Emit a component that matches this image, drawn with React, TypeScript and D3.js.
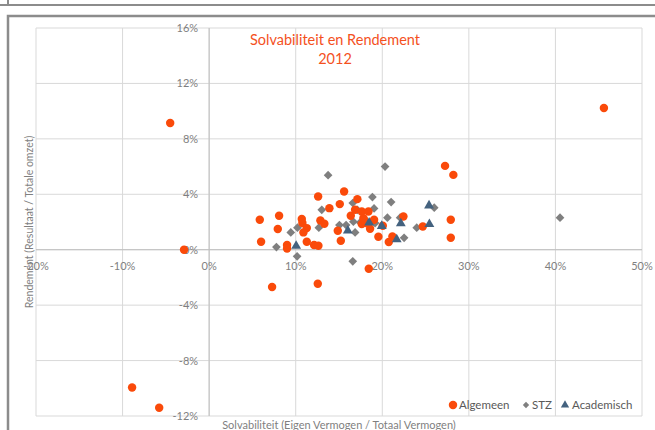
import * as d3 from "d3";
import { useEffect, useRef } from "react";

// axis ticks (percent)
const xTicks = [-20, -10, 0, 10, 20, 30, 40, 50];
const yTicks = [-12, -8, -4, 0, 4, 8, 12, 16];

// Algemeen (solvabiliteit %, rendement %)
const algemeenX = [5.85, 8.08, 7.93, 6.0, 9.0, 9.0, 10.7, 10.77, 11.28, 10.89, 11.28, 12.12, 12.62, 12.59, 13.89, 12.85,
  13.31, 14.86, 15.21, 15.09, 15.59, 16.36, 7.27, 12.55, 17.12, 16.86, 17.63, 17.82, 18.4, 17.63, 18.59, 19.05,
  19.55, 20.06, 20.75, 21.17, 22.44, 24.68, 27.91, 27.91, 27.25, 28.21, 18.44, 45.6, -4.5, -2.9, -8.9, -5.77,
  17.9, 18.1];
const algemeenY = [2.16, 2.45, 1.49, 0.58, 0.34, 0.09, 2.21, 1.92, 1.56, 1.25, 0.58, 0.34, 0.29, 3.84, 3.0, 2.11,
  1.87, 1.37, 0.65, 3.29, 4.2, 2.45, -2.69, -2.45, 3.65, 2.88, 2.76, 2.28, 2.76, 1.85, 1.51, 2.16,
  0.94, 1.73, 0.55, 0.96, 2.4, 1.68, 2.16, 0.86, 6.05, 5.4, -1.37, 10.23, 9.15, 0, -9.95, -11.4,
  2.16, 1.92];

// STZ
const stzX = [13.74, 13.01, 12.67, 9.43, 10.2, 7.77, 10.16, 15.05, 15.82, 16.59, 16.66, 16.86, 16.59, 20.32, 18.86,
  21.02, 19.05, 17.44, 19.17, 20.59, 22.06, 23.98, 22.52, 26.0, 40.53, 17.12];
const stzY = [5.38, 2.88, 1.59, 1.25, 1.59, 0.19, -0.48, 1.78, 1.78, 3.37, 2.02, 1.25, -0.84, 6.0, 3.8,
  3.44, 2.98, 1.97, 1.92, 2.31, 2.31, 1.59, 0.86, 3.03, 2.31, 2.88];

// Academisch
const acadX = [10.05, 16.02, 18.48, 19.94, 22.14, 21.67, 25.4, 25.44];
const acadY = [0.34, 1.44, 2.02, 1.78, 1.97, 0.81, 3.26, 1.92];

const orange = "#fa4a0a";
const grey = "#7f7f7f";
const blue = "#44627f";
const font = "Lato, 'Open Sans', sans-serif";

export default function App() {
  const ref = useRef<SVGSVGElement>(null);

  useEffect(() => {
    const svg = d3.select(ref.current);
    svg.selectAll("*").remove();

    // frame (previous box bottom + this box)
    svg.append("line").attr("x1", 0).attr("x2", 655).attr("y1", 5).attr("y2", 5)
      .attr("stroke", "#8c8c8c").attr("stroke-width", 2);
    svg.append("line").attr("x1", 8).attr("x2", 8).attr("y1", 0).attr("y2", 5)
      .attr("stroke", "#8c8c8c").attr("stroke-width", 2);
    svg.append("rect").attr("x", 8).attr("y", 16).attr("width", 660).attr("height", 430)
      .attr("fill", "#fff").attr("stroke", "#8c8c8c").attr("stroke-width", 2.5);

    const x = d3.scaleLinear().domain([-20, 50]).range([36, 642]);
    const y = d3.scaleLinear().domain([-12, 16]).range([416, 28]);

    // gridlines
    svg.append("g").selectAll("line").data(xTicks).join("line")
      .attr("x1", (d) => x(d)).attr("x2", (d) => x(d))
      .attr("y1", y(16)).attr("y2", y(-12))
      .attr("stroke", "#d9d9d9").attr("stroke-width", 1);
    svg.append("g").selectAll("line").data(yTicks).join("line")
      .attr("y1", (d) => y(d)).attr("y2", (d) => y(d))
      .attr("x1", x(-20)).attr("x2", x(50))
      .attr("stroke", "#d9d9d9").attr("stroke-width", 1);

    // axes through origin
    svg.append("line").attr("x1", x(0)).attr("x2", x(0)).attr("y1", y(16)).attr("y2", y(-12))
      .attr("stroke", "#bfbfbf");
    svg.append("line").attr("x1", x(-20)).attr("x2", x(50)).attr("y1", y(0)).attr("y2", y(0))
      .attr("stroke", "#bfbfbf");

    // tick labels
    svg.append("g").selectAll("text").data(xTicks).join("text")
      .attr("x", (d) => x(d)).attr("y", y(0) + 20)
      .attr("text-anchor", "middle")
      .attr("font-family", font).attr("font-size", 11).attr("fill", "#7f7f7f")
      .text((d) => d + "%");
    svg.append("g").selectAll("text").data(yTicks).join("text")
      .attr("x", x(0) - 11).attr("y", (d) => y(d) + 4)
      .attr("text-anchor", "end")
      .attr("font-family", font).attr("font-size", 11).attr("fill", "#7f7f7f")
      .text((d) => d + "%");

    // axis titles
    svg.append("text")
      .attr("transform", `translate(33,${(y(16) + y(-12)) / 2}) rotate(-90)`)
      .attr("text-anchor", "middle")
      .attr("font-family", font).attr("font-size", 10.5).attr("fill", "#7f7f7f")
      .text("Rendement (Resultaat / Totale omzet)");
    svg.append("text")
      .attr("x", (x(-20) + x(50)) / 2).attr("y", 429)
      .attr("text-anchor", "middle")
      .attr("font-family", font).attr("font-size", 11).attr("fill", "#7f7f7f")
      .text("Solvabiliteit (Eigen Vermogen / Totaal Vermogen)");

    // title
    const title = svg.append("text").attr("text-anchor", "middle")
      .attr("font-family", font).attr("font-size", 14.5).attr("fill", "#f4511e");
    title.append("tspan").attr("x", 335).attr("y", 45).text("Solvabiliteit en Rendement");
    title.append("tspan").attr("x", 335).attr("y", 64).text("2012");

    // points
    const circle = d3.symbol().type(d3.symbolCircle).size(56)();
    const diamond = d3.symbol().type(d3.symbolSquare).size(38)();
    const triangle = d3.symbol().type(d3.symbolTriangle).size(42)();

    svg.append("g").selectAll("path").data(d3.range(stzX.length)).join("path")
      .attr("d", diamond)
      .attr("transform", (i) => `translate(${x(stzX[i])},${y(stzY[i])}) rotate(45)`)
      .attr("fill", grey);
    svg.append("g").selectAll("path").data(d3.range(algemeenX.length)).join("path")
      .attr("d", circle)
      .attr("transform", (i) => `translate(${x(algemeenX[i])},${y(algemeenY[i])})`)
      .attr("fill", orange);
    svg.append("g").selectAll("path").data(d3.range(acadX.length)).join("path")
      .attr("d", triangle)
      .attr("transform", (i) => `translate(${x(acadX[i])},${y(acadY[i]) + 1})`)
      .attr("fill", blue);

    // legend
    const legend = [
      { name: "Algemeen", shape: circle, color: orange, rot: 0, sx: 453, tx: 459 },
      { name: "STZ", shape: d3.symbol().type(d3.symbolSquare).size(20)(), color: grey, rot: 45, sx: 526, tx: 532 },
      { name: "Academisch", shape: d3.symbol().type(d3.symbolTriangle).size(30)(), color: blue, rot: 0, sx: 565, tx: 572 },
    ];
    const lg = svg.append("g").selectAll("g").data(legend).join("g");
    lg.append("path").attr("d", (d) => d.shape)
      .attr("transform", (d) => `translate(${d.sx},405) rotate(${d.rot})`)
      .attr("fill", (d) => d.color);
    lg.append("text").attr("x", (d) => d.tx).attr("y", 409)
      .attr("font-family", font).attr("font-size", 11.5).attr("fill", "#595959")
      .text((d) => d.name);
  }, []);

  return (
    <svg ref={ref} width={655} height={430}
      style={{ position: "absolute", left: 0, top: 0, background: "#fff" }} />
  );
}
